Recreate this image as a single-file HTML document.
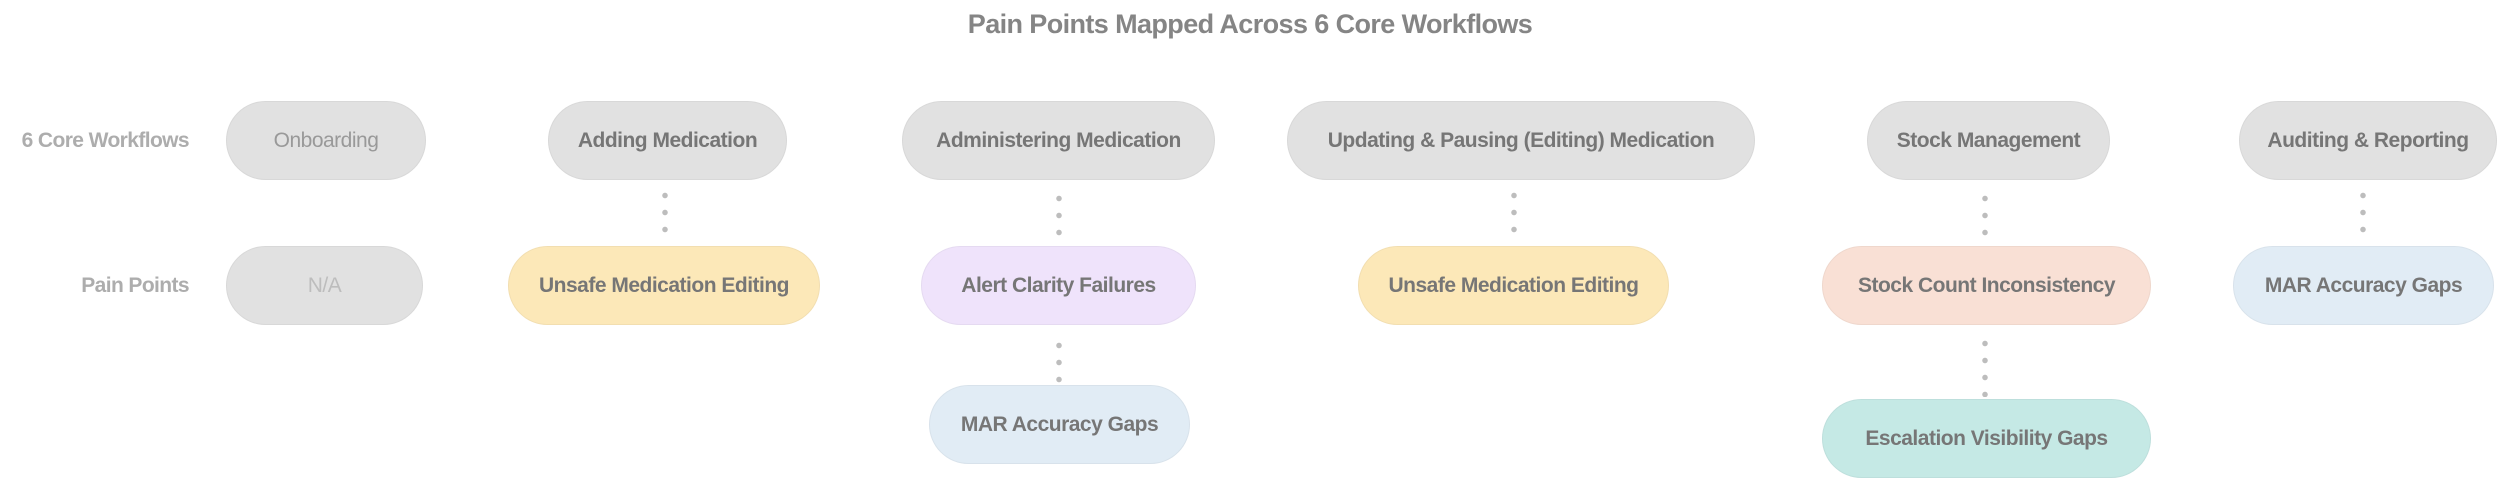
<!DOCTYPE html>
<html><head><meta charset="utf-8"><style>
body{margin:0;width:2500px;height:479px;background:#fff;position:relative;overflow:hidden;font-family:"Liberation Sans",sans-serif}
.t{position:absolute;left:0;width:2500px;top:9px;text-align:center;font-weight:bold;font-size:27px;color:#858585;letter-spacing:-0.6px}
.l{position:absolute;right:2311px;font-weight:bold;font-size:21px;color:#adadad;letter-spacing:-0.6px;white-space:nowrap}
.b{position:absolute;height:79px;border-radius:40px;display:flex;align-items:center;justify-content:center;font-weight:bold;font-size:21px;color:#767676;letter-spacing:-0.5px;white-space:nowrap;box-sizing:border-box;border:1px solid rgba(0,0,0,0.04)}
.g{background:#e1e1e1}.y{background:#fce8b8}.p{background:#efe3fb}.bl{background:#e1ecf5}.pe{background:#f9e0d5}.te{background:#c5e9e5}
.d{position:absolute;width:6px;background:radial-gradient(circle,#bdbdbd 2.5px,transparent 3px);background-size:6px 17px;background-repeat:repeat-y}
</style></head><body>
<div class="t">Pain Points Mapped Across 6 Core Workflows</div>
<div class="l" style="top:129px">6 Core Workflows</div>
<div class="l" style="top:274px">Pain Points</div>

<div class="b g" style="left:226px;top:101px;width:200px;font-weight:normal;color:#999">Onboarding</div>
<div class="b g" style="left:548px;top:101px;width:239px">Adding Medication</div>
<div class="b g" style="left:902px;top:101px;width:313px">Administering Medication</div>
<div class="b g" style="left:1287px;top:101px;width:468px">Updating &amp; Pausing (Editing) Medication</div>
<div class="b g" style="left:1867px;top:101px;width:243px">Stock Management</div>
<div class="b g" style="left:2239px;top:101px;width:258px">Auditing &amp; Reporting</div>

<div class="b g" style="left:226px;top:246px;width:197px;font-weight:normal;color:#bdbdbd">N/A</div>
<div class="b y" style="left:508px;top:246px;width:312px">Unsafe Medication Editing</div>
<div class="b p" style="left:921px;top:246px;width:275px">Alert Clarity Failures</div>
<div class="b y" style="left:1358px;top:246px;width:311px">Unsafe Medication Editing</div>
<div class="b pe" style="left:1822px;top:246px;width:329px">Stock Count Inconsistency</div>
<div class="b bl" style="left:2233px;top:246px;width:261px">MAR Accuracy Gaps</div>

<div class="b bl" style="left:929px;top:385px;width:261px">MAR Accuracy Gaps</div>
<div class="b te" style="left:1822px;top:399px;width:329px">Escalation Visibility Gaps</div>

<div class="d" style="left:662px;top:187px;height:56px"></div>
<div class="d" style="left:1056px;top:190px;height:53px"></div>
<div class="d" style="left:1511px;top:187px;height:56px"></div>
<div class="d" style="left:1982px;top:190px;height:53px"></div>
<div class="d" style="left:2360px;top:187px;height:56px"></div>
<div class="d" style="left:1056px;top:337px;height:46px"></div>
<div class="d" style="left:1982px;top:335px;height:62px"></div>
</body></html>
